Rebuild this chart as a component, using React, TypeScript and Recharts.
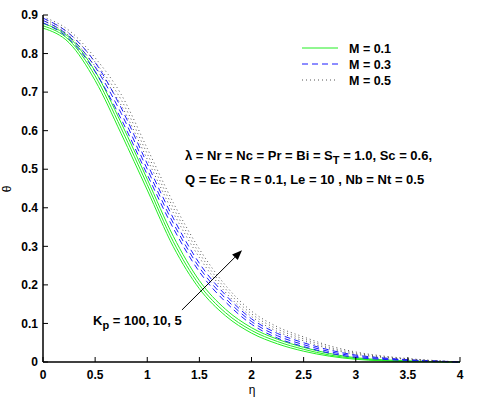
import React from "react";
import { LineChart, Line, XAxis, YAxis, ReferenceLine } from "recharts";

const eta = [0, 0.25, 0.5, 0.75, 1, 1.25, 1.5, 1.75, 2, 2.25, 2.5, 2.75, 3, 3.25, 3.5, 3.75, 4];

// M = 0.1 (green), Kp = 100, 10, 5
const m1k100 = [0.866, 0.828, 0.730, 0.592, 0.446, 0.299, 0.190, 0.120, 0.075, 0.047, 0.028, 0.015, 0.007, 0.003, 0.001, 0.0005, 0];
const m1k10 = [0.872, 0.835, 0.742, 0.606, 0.460, 0.312, 0.200, 0.128, 0.082, 0.053, 0.033, 0.018, 0.009, 0.004, 0.002, 0.001, 0];
const m1k5 = [0.878, 0.842, 0.754, 0.620, 0.474, 0.326, 0.211, 0.137, 0.089, 0.059, 0.038, 0.022, 0.011, 0.006, 0.003, 0.001, 0];

// M = 0.3 (blue dashed)
const m3k100 = [0.880, 0.838, 0.753, 0.630, 0.486, 0.347, 0.234, 0.156, 0.098, 0.062, 0.040, 0.023, 0.012, 0.007, 0.004, 0.002, 0];
const m3k10 = [0.886, 0.845, 0.765, 0.645, 0.500, 0.360, 0.245, 0.165, 0.105, 0.068, 0.045, 0.027, 0.015, 0.009, 0.005, 0.002, 0];
const m3k5 = [0.892, 0.852, 0.777, 0.659, 0.514, 0.373, 0.256, 0.174, 0.112, 0.074, 0.050, 0.031, 0.018, 0.011, 0.006, 0.003, 0];

// M = 0.5 (dotted)
const m5k100 = [0.885, 0.846, 0.767, 0.666, 0.526, 0.387, 0.271, 0.181, 0.118, 0.079, 0.055, 0.034, 0.020, 0.012, 0.007, 0.003, 0];
const m5k10 = [0.890, 0.853, 0.778, 0.680, 0.540, 0.400, 0.282, 0.190, 0.125, 0.085, 0.060, 0.038, 0.023, 0.014, 0.008, 0.003, 0];
const m5k5 = [0.895, 0.860, 0.789, 0.694, 0.554, 0.413, 0.293, 0.199, 0.132, 0.091, 0.065, 0.042, 0.026, 0.016, 0.009, 0.004, 0];

const xTicks = [0, 0.5, 1, 1.5, 2, 2.5, 3, 3.5, 4];
const yTicks = [0, 0.1, 0.2, 0.3, 0.4, 0.5, 0.6, 0.7, 0.8, 0.9];
const legendLabels = ["M = 0.1", "M = 0.3", "M = 0.5"];
const arrowFrom = { x: 1.333, y: 0.135 };
const arrowTo = { x: 1.909, y: 0.29 };

const GREEN = "#22ee22";
const BLUE = "#1a1aff";
const GRAY = "#555555";

const legendStyles = [
  { color: GREEN, dash: undefined as string | undefined },
  { color: BLUE, dash: "6 4" },
  { color: GRAY, dash: "1 3" },
];

const seriesDefs = [
  { key: "g100", vals: m1k100, style: 0 },
  { key: "g10", vals: m1k10, style: 0 },
  { key: "g5", vals: m1k5, style: 0 },
  { key: "b100", vals: m3k100, style: 1 },
  { key: "b10", vals: m3k10, style: 1 },
  { key: "b5", vals: m3k5, style: 1 },
  { key: "d100", vals: m5k100, style: 2 },
  { key: "d10", vals: m5k10, style: 2 },
  { key: "d5", vals: m5k5, style: 2 },
];

const data = eta.map((e, i) => {
  const row: Record<string, number> = { eta: e };
  seriesDefs.forEach((s) => {
    row[s.key] = s.vals[i];
  });
  return row;
});

const FONT = "'Liberation Sans', Arial, sans-serif";

const ArrowShape = (props: any) => {
  const { x1, y1, x2, y2 } = props;
  if ([x1, y1, x2, y2].some((v) => typeof v !== "number")) return null;
  const ang = Math.atan2(y2 - y1, x2 - x1);
  const L = 10;
  const W = 4;
  const bx = x2 - L * Math.cos(ang);
  const by = y2 - L * Math.sin(ang);
  const px = -Math.sin(ang) * W;
  const py = Math.cos(ang) * W;
  return (
    <g>
      <line x1={x1} y1={y1} x2={bx} y2={by} stroke="#000" strokeWidth={1} />
      <polygon points={`${x2},${y2} ${bx + px},${by + py} ${bx - px},${by - py}`} fill="#000" />
    </g>
  );
};

export default function App() {
  return (
    <div style={{ position: "absolute", left: 0, top: 0, width: 480, height: 399, background: "#fff" }}>
      <LineChart width={480} height={399} data={data} margin={{ top: 15, right: 20, bottom: 0, left: 0 }}>
        <XAxis
          dataKey="eta"
          type="number"
          domain={[0, 4]}
          ticks={xTicks}
          tickSize={-5}
          tickMargin={13}
          height={37}
          stroke="#000"
          tick={{ fill: "#000", fontFamily: FONT, fontWeight: "bold", fontSize: 12 }}
          axisLine={{ stroke: "#000", strokeWidth: 1.5 }}
          tickLine={{ stroke: "#000" }}
        />
        <XAxis
          xAxisId="top"
          orientation="top"
          dataKey="eta"
          type="number"
          domain={[0, 4]}
          ticks={xTicks}
          tickSize={-5}
          height={0}
          tick={false}
          stroke="#000"
          axisLine={{ stroke: "#000", strokeWidth: 1.5 }}
          tickLine={{ stroke: "#000" }}
        />
        <YAxis
          type="number"
          domain={[0, 0.9]}
          ticks={yTicks}
          tickSize={-5}
          tickMargin={10}
          width={43}
          stroke="#000"
          tick={{ fill: "#000", fontFamily: FONT, fontWeight: "bold", fontSize: 12 }}
          axisLine={{ stroke: "#000", strokeWidth: 1.5 }}
          tickLine={{ stroke: "#000" }}
        />
        <YAxis
          yAxisId="right"
          orientation="right"
          type="number"
          domain={[0, 0.9]}
          ticks={yTicks}
          tickSize={-5}
          width={0}
          tick={false}
          stroke="#000"
          axisLine={{ stroke: "#000", strokeWidth: 1.5 }}
          tickLine={{ stroke: "#000" }}
        />
        {seriesDefs.map((s) => (
          <Line
            key={s.key}
            dataKey={s.key}
            type="monotone"
            stroke={legendStyles[s.style].color}
            strokeWidth={1}
            strokeDasharray={legendStyles[s.style].dash}
            dot={false}
            isAnimationActive={false}
          />
        ))}
        <ReferenceLine segment={[arrowFrom, arrowTo]} shape={ArrowShape} ifOverflow="visible" />
        <g>
          {legendLabels.map((l, i) => (
            <g key={l}>
              <line x1={302} x2={338} y1={48 + i * 16} y2={48 + i * 16} stroke={legendStyles[i].color} strokeDasharray={legendStyles[i].dash} strokeWidth={1} />
              <text x={349} y={52.5 + i * 16} fontFamily={FONT} fontWeight="bold" fontSize={12.5} fill="#000">{l}</text>
            </g>
          ))}
        </g>
        <text x={185} y={159.5} fontFamily={FONT} fontWeight="bold" fontSize={13} fill="#000">
          λ = Nr = Nc = Pr = Bi = S<tspan dy={4} fontSize={11}>T</tspan><tspan dy={-4}> = 1.0, Sc = 0.6,</tspan>
        </text>
        <text x={185} y={183.5} fontFamily={FONT} fontWeight="bold" fontSize={13} fill="#000">
          Q = Ec = R = 0.1, Le = 10 , Nb = Nt = 0.5
        </text>
        <text x={93} y={325} fontFamily={FONT} fontWeight="bold" fontSize={13} fill="#000">
          K<tspan dy={4} fontSize={11}>p</tspan><tspan dy={-4}> = 100, 10, 5</tspan>
        </text>
        <text x={252} y={394} textAnchor="middle" fontFamily={FONT} fontSize={12} fill="#000">η</text>
        <text x={11} y={189} textAnchor="middle" fontFamily={FONT} fontSize={12} fill="#000" transform="rotate(-90 11 189)">θ</text>
      </LineChart>
    </div>
  );
}
